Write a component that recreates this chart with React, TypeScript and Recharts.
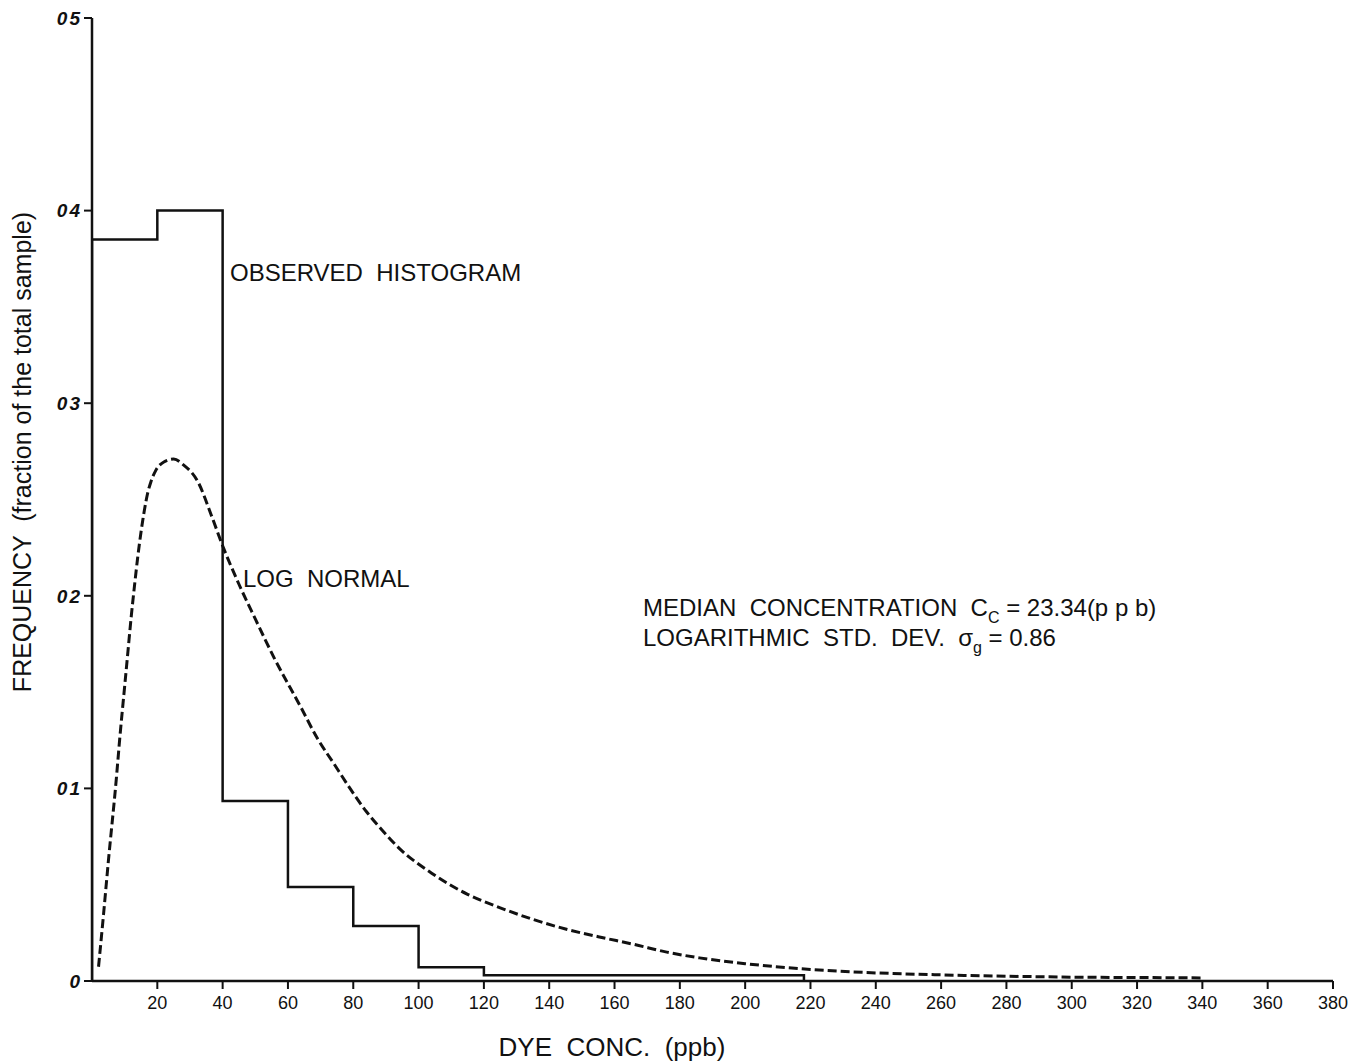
import React from "react";
import { ComposedChart, Line, XAxis, YAxis } from "recharts";

// histogram bin edges (ppb) and observed fractions
const binEdges = [0, 0, 20, 40, 60, 80, 100, 120, 218];
const binFreq = [0, 0.385, 0.4, 0.0935, 0.0488, 0.0286, 0.0071, 0.003, 0];

// log normal curve
const curveX = [2, 3.5, 5, 7.5, 8.5, 10, 11, 12, 13, 14, 15, 16, 17, 18, 19.5, 22, 25, 28, 32.5, 36.5, 40, 45, 50, 56, 64, 69, 74, 79, 84, 89, 94, 104, 115, 125, 135, 145, 155, 166, 176, 186, 200, 220, 236, 260, 280, 300, 320, 340];
const curveY = [0.0074, 0.034, 0.062, 0.106, 0.126, 0.153, 0.171, 0.189, 0.205, 0.22, 0.233, 0.244, 0.253, 0.259, 0.265, 0.2695, 0.271, 0.268, 0.259, 0.242, 0.226, 0.206, 0.188, 0.167, 0.142, 0.126, 0.113, 0.1, 0.088, 0.078, 0.069, 0.056, 0.045, 0.038, 0.032, 0.027, 0.023, 0.019, 0.015, 0.012, 0.009, 0.006, 0.0045, 0.0032, 0.0025, 0.002, 0.0018, 0.0016];

const xTicks = [20, 40, 60, 80, 100, 120, 140, 160, 180, 200, 220, 240, 260, 280, 300, 320, 340, 360, 380];
const yTicks = [0, 0.1, 0.2, 0.3, 0.4, 0.5];
const yTickLabels = ["0", "01", "02", "03", "04", "05"];

const histData = binEdges.map((x, i) => ({ x, f: binFreq[i] }));
const curveData = curveX.map((x, i) => ({ x, f: curveY[i] }));

const font = "'Liberation Sans', Arial, sans-serif";
const ink = "#111";
const pre = { whiteSpace: "pre" as const };

export default function App() {
  return (
    <div style={{ position: "absolute", left: 0, top: 0, background: "#fff" }}>
      <ComposedChart width={1364} height={1061} margin={{ top: 18, right: 31, bottom: 30, left: 22 }}>
        <XAxis
          dataKey="x"
          type="number"
          domain={[0, 380]}
          ticks={xTicks}
          interval={0}
          allowDataOverflow
          axisLine={{ stroke: ink, strokeWidth: 2.5 }}
          tickLine={{ stroke: ink, strokeWidth: 2 }}
          tickSize={8}
          tickMargin={7}
          tick={{ fill: ink, fontSize: 18, fontFamily: font }}
          height={50}
        />
        <YAxis
          type="number"
          domain={[0, 0.5]}
          ticks={yTicks}
          interval={0}
          axisLine={{ stroke: ink, strokeWidth: 2.5 }}
          tickLine={{ stroke: ink, strokeWidth: 2 }}
          tickSize={8}
          tickFormatter={(v: number) => yTickLabels[Math.round(v * 10)]}
          tick={{ fill: ink, fontSize: 19, fontFamily: font, fontWeight: 700, fontStyle: "italic", letterSpacing: 2 }}
          width={70}
        />
        <Line
          data={histData}
          dataKey="f"
          type="stepAfter"
          stroke={ink}
          strokeWidth={2.5}
          dot={false}
          isAnimationActive={false}
        />
        <Line
          data={curveData}
          dataKey="f"
          type="monotone"
          stroke={ink}
          strokeWidth={3}
          strokeDasharray="9 4"
          dot={false}
          isAnimationActive={false}
        />
        <text x={612} y={1056} textAnchor="middle" fill={ink} fontSize={26} fontFamily={font} style={pre}>DYE  CONC.  (ppb)</text>
        <text x={31} y={452} transform="rotate(-90 31 452)" textAnchor="middle" fill={ink} fontSize={25} fontFamily={font} style={pre}>FREQUENCY  (fraction of the total sample)</text>
        <text x={230} y={281} fill={ink} fontSize={24} fontFamily={font} style={pre}>OBSERVED  HISTOGRAM</text>
        <text x={243} y={587} fill={ink} fontSize={24} fontFamily={font} style={pre}>LOG  NORMAL</text>
        <text x={643} y={616} fill={ink} fontSize={24} fontFamily={font} style={pre}>
          MEDIAN  CONCENTRATION  C<tspan fontSize={16} dy={7}>C</tspan>
          <tspan dy={-7}> = 23.34(p p b)</tspan>
        </text>
        <text x={643} y={646} fill={ink} fontSize={24} fontFamily={font} style={pre}>
          LOGARITHMIC  STD.  DEV.  σ<tspan fontSize={16} dy={7}>g</tspan>
          <tspan dy={-7}> = 0.86</tspan>
        </text>
      </ComposedChart>
    </div>
  );
}
